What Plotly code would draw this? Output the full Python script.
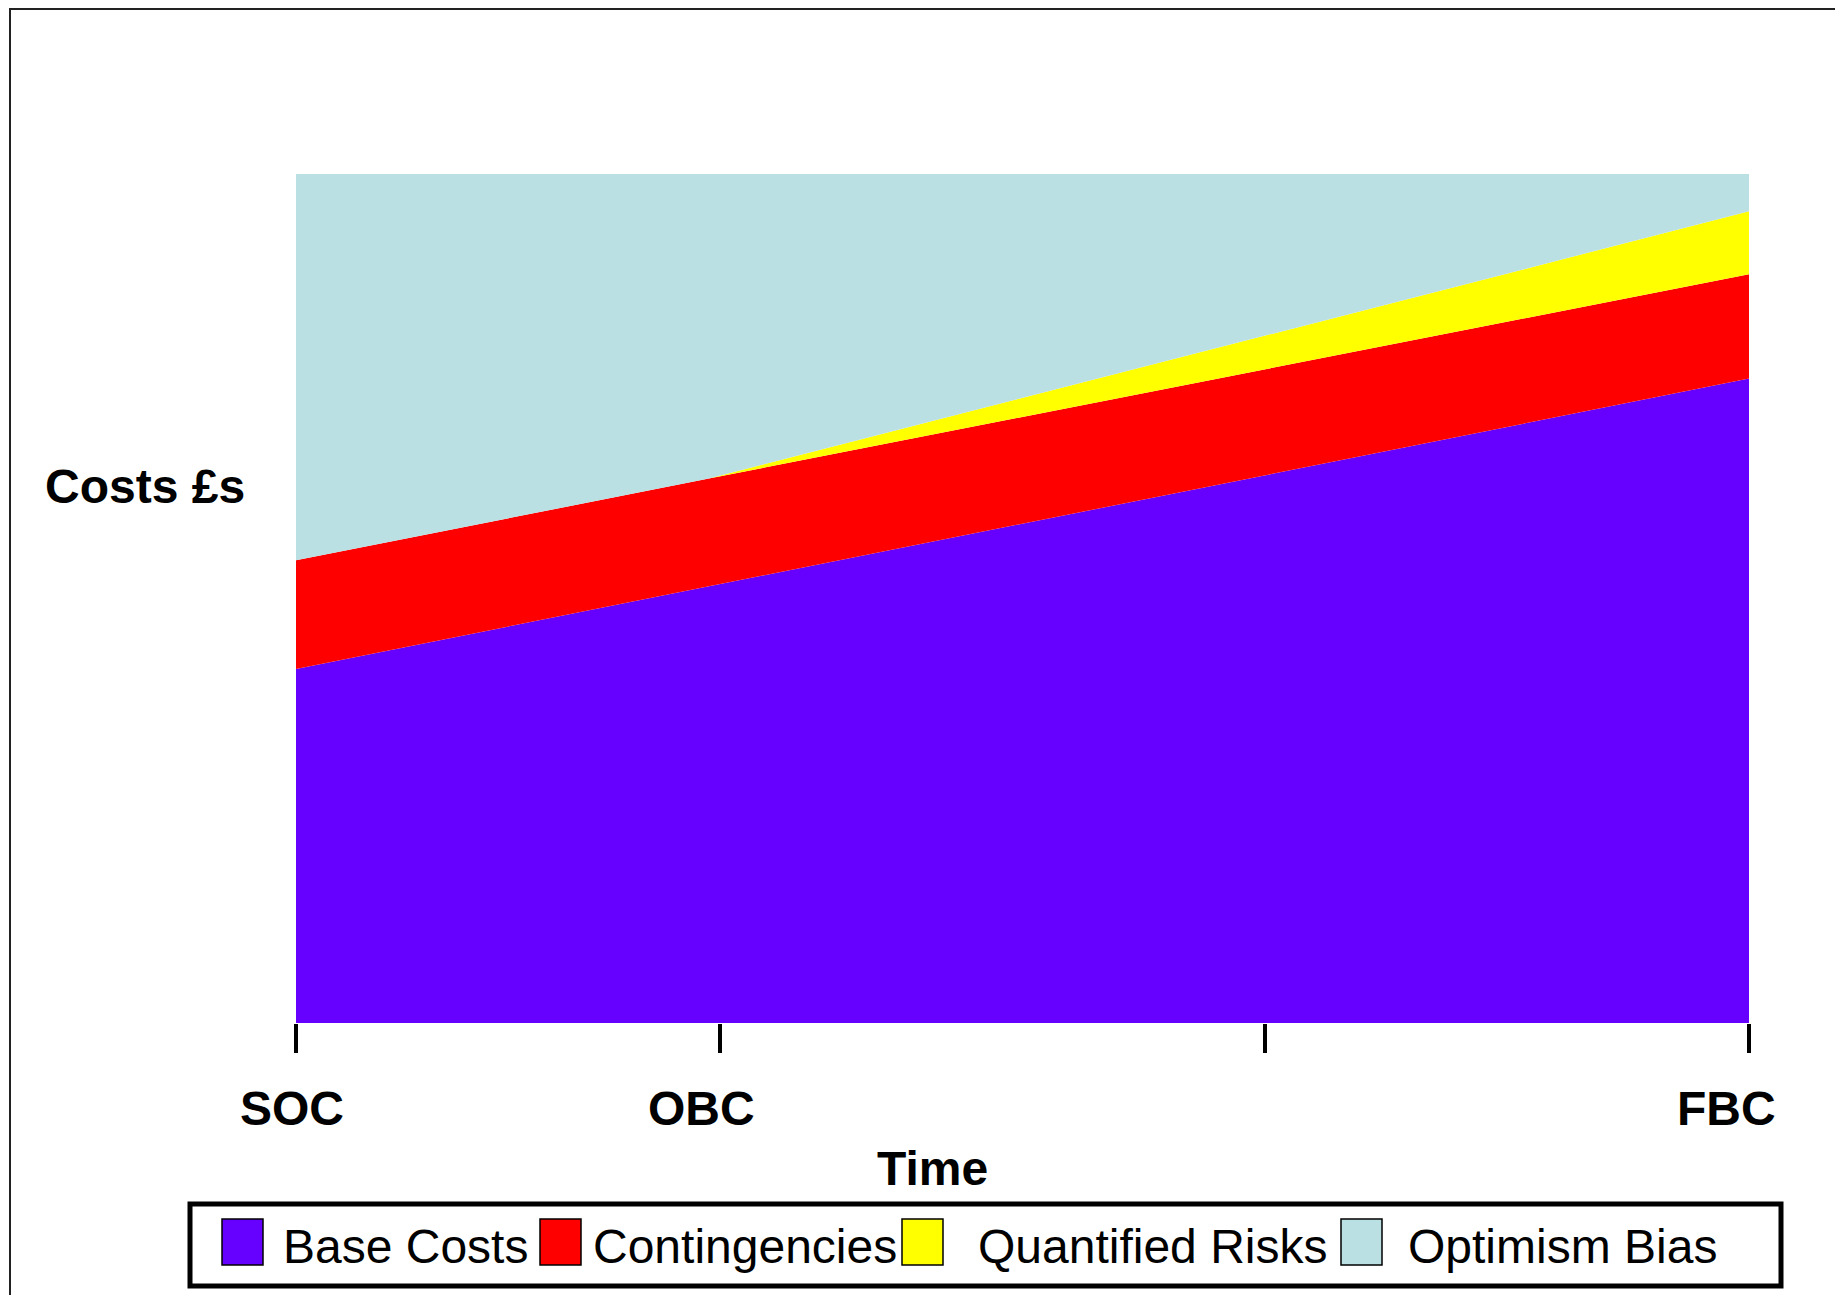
import plotly.graph_objects as go

# ---------------- data ----------------
time_x = [0, 3.4, 12]
base_costs = [41.7, 51.4, 75.9]
contingencies = [12.8, 12.7, 12.3]
quantified_risks = [0.0, 0.0, 7.4]
optimism_bias = [45.5, 35.9, 4.4]

series_names = ["Base Costs", "Contingencies", "Quantified Risks", "Optimism Bias"]
series_colors = ["#6600FF", "#FF0000", "#FFFF00", "#BBE0E3"]
series_values = [base_costs, contingencies, quantified_risks, optimism_bias]

tick_vals = [0, 3.5, 8, 12]
tick_labels = ["SOC", "OBC", "", "FBC"]
tick_label_shift = [-4, -18, 0, -23]

# ---------------- layout geometry ----------------
OFF = 8                      # body margin of the html page
FIG_W, FIG_H = 1835, 1287
ML, MT, PW, PH = 288, 166, 1453, 849
MR = FIG_W - ML - PW
MB = FIG_H - MT - PH
FONT = "Arial, Liberation Sans, sans-serif"


def px(page_x):
    return (page_x - OFF - ML) / PW


def py(page_y):
    return (MT + PH - (page_y - OFF)) / PH


fig = go.Figure()
for name, color, vals in zip(series_names, series_colors, series_values):
    fig.add_trace(go.Scatter(
        x=time_x, y=vals, name=name, mode="none",
        stackgroup="costs", fillcolor=color, hoverinfo="skip",
        showlegend=False,
    ))

shapes = []
annotations = []

# outer frame
shapes.append(dict(type="rect", xref="paper", yref="paper",
                   x0=px(10), x1=px(1841), y0=py(1330), y1=py(9),
                   line=dict(color="#222222", width=2), fillcolor="rgba(0,0,0,0)",
                   layer="above"))

# tick labels
for v, lab, sh in zip(tick_vals, tick_labels, tick_label_shift):
    if lab:
        annotations.append(dict(x=v, y=py(1108), xref="x", yref="paper",
                                text=f"<b>{lab}</b>", showarrow=False,
                                xanchor="center", yanchor="middle", xshift=sh,
                                font=dict(family=FONT, size=48, color="black")))

# axis titles
annotations.append(dict(x=px(932), y=py(1168), xref="paper", yref="paper",
                        text="<b>Time</b>", showarrow=False,
                        xanchor="center", yanchor="middle",
                        font=dict(family=FONT, size=48, color="black")))
annotations.append(dict(x=px(43), y=py(487), xref="paper", yref="paper",
                        text="<b>Costs £s</b>", showarrow=False,
                        xanchor="left", yanchor="middle",
                        font=dict(family=FONT, size=48, color="black")))

# legend box
shapes.append(dict(type="rect", xref="paper", yref="paper",
                   x0=px(190), x1=px(1781), y0=py(1286), y1=py(1204),
                   line=dict(color="black", width=5), fillcolor="white"))
swatch_x = [222, 540, 902, 1341]
text_x = [281, 591, 976, 1406]
for name, color, sx, tx in zip(series_names, series_colors, swatch_x, text_x):
    shapes.append(dict(type="rect", xref="paper", yref="paper",
                       x0=px(sx), x1=px(sx + 41), y0=py(1265), y1=py(1219),
                       line=dict(color="black", width=1.5), fillcolor=color))
    annotations.append(dict(x=px(tx), y=py(1246), xref="paper", yref="paper",
                            text=name, showarrow=False,
                            xanchor="left", yanchor="middle",
                            font=dict(family=FONT, size=48, color="black")))

fig.update_layout(
    width=FIG_W, height=FIG_H,
    margin=dict(l=ML, r=MR, t=MT, b=MB, pad=0),
    paper_bgcolor="white", plot_bgcolor="white",
    showlegend=False,
    xaxis=dict(range=[0, 12], tickvals=tick_vals, ticktext=tick_labels,
               showticklabels=False, ticks="outside", ticklen=29,
               tickwidth=4, tickcolor="black", showgrid=False,
               zeroline=False, showline=False, fixedrange=True),
    yaxis=dict(range=[0, 100], visible=False, fixedrange=True),
    shapes=shapes,
    annotations=annotations,
)

fig.write_html("out.html")
